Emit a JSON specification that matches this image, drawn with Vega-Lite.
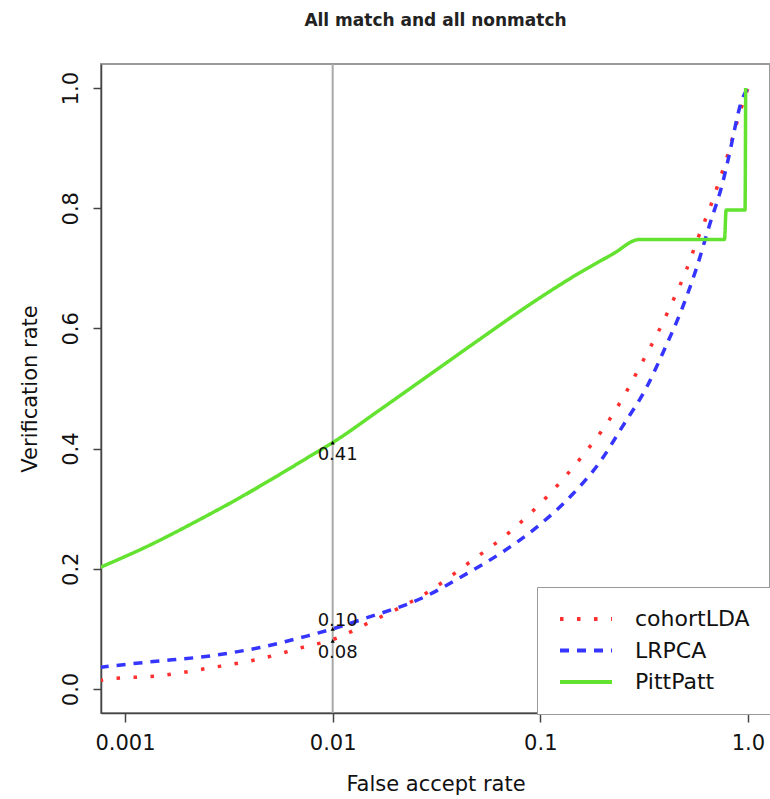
{
  "$schema": "https://vega.github.io/schema/vega-lite/v6.json",
  "width": 669,
  "height": 649,
  "autosize": {"type": "none"},
  "padding": {"left": 101, "top": 64, "right": 0, "bottom": 86},
  "background": "white",
  "title": {"text": "All match and all nonmatch", "fontSize": 17, "fontWeight": "bold", "font": "DejaVu Sans", "color": "#222", "offset": 33, "anchor": "middle"},
  "config": {
    "view": {"stroke": "#9a9a9a", "strokeWidth": 2},
    "axis": {"labelFont": "DejaVu Sans", "titleFont": "DejaVu Sans", "labelFontSize": 21, "titleFontSize": 21, "titleFontWeight": "normal", "labelColor": "#111", "titleColor": "#111", "domainColor": "#444", "domainWidth": 1.5, "tickColor": "#444", "tickWidth": 1.5, "grid": false},
    "legend": {"strokeColor": "#999", "fillColor": "white", "padding": 21, "symbolType": "stroke", "symbolSize": 2700, "symbolStrokeWidth": 4, "labelFont": "DejaVu Sans", "labelFontSize": 22, "labelColor": "#111", "labelOffset": 21, "rowPadding": 9.5, "clipHeight": 22}
  },
  "datasets": {
    "curves": [
      {"fa": 0.000755, "vr": 0.014, "method": "cohortLDA"},
      {"fa": 0.000844, "vr": 0.0166, "method": "cohortLDA"},
      {"fa": 0.00147, "vr": 0.022, "method": "cohortLDA"},
      {"fa": 0.00256, "vr": 0.035, "method": "cohortLDA"},
      {"fa": 0.00446, "vr": 0.05, "method": "cohortLDA"},
      {"fa": 0.0075, "vr": 0.071, "method": "cohortLDA"},
      {"fa": 0.01, "vr": 0.082, "method": "cohortLDA"},
      {"fa": 0.01507, "vr": 0.111, "method": "cohortLDA"},
      {"fa": 0.0293, "vr": 0.163, "method": "cohortLDA"},
      {"fa": 0.0457, "vr": 0.211, "method": "cohortLDA"},
      {"fa": 0.0711, "vr": 0.261, "method": "cohortLDA"},
      {"fa": 0.107, "vr": 0.319, "method": "cohortLDA"},
      {"fa": 0.1546, "vr": 0.382, "method": "cohortLDA"},
      {"fa": 0.216, "vr": 0.449, "method": "cohortLDA"},
      {"fa": 0.263, "vr": 0.498, "method": "cohortLDA"},
      {"fa": 0.311, "vr": 0.545, "method": "cohortLDA"},
      {"fa": 0.371, "vr": 0.595, "method": "cohortLDA"},
      {"fa": 0.434, "vr": 0.645, "method": "cohortLDA"},
      {"fa": 0.501, "vr": 0.694, "method": "cohortLDA"},
      {"fa": 0.571, "vr": 0.748, "method": "cohortLDA"},
      {"fa": 0.653, "vr": 0.799, "method": "cohortLDA"},
      {"fa": 0.738, "vr": 0.852, "method": "cohortLDA"},
      {"fa": 0.78, "vr": 0.877, "method": "cohortLDA"},
      {"fa": 0.912, "vr": 0.958, "method": "cohortLDA"},
      {"fa": 1.0, "vr": 1.0, "method": "cohortLDA"},
      {"fa": 0.000755, "vr": 0.036, "method": "LRPCA"},
      {"fa": 0.00131, "vr": 0.045, "method": "LRPCA"},
      {"fa": 0.00256, "vr": 0.055, "method": "LRPCA"},
      {"fa": 0.00446, "vr": 0.069, "method": "LRPCA"},
      {"fa": 0.0075, "vr": 0.088, "method": "LRPCA"},
      {"fa": 0.01, "vr": 0.1, "method": "LRPCA"},
      {"fa": 0.0139, "vr": 0.116, "method": "LRPCA"},
      {"fa": 0.0284, "vr": 0.155, "method": "LRPCA"},
      {"fa": 0.0423, "vr": 0.188, "method": "LRPCA"},
      {"fa": 0.0658, "vr": 0.228, "method": "LRPCA"},
      {"fa": 0.0959, "vr": 0.269, "method": "LRPCA"},
      {"fa": 0.143, "vr": 0.324, "method": "LRPCA"},
      {"fa": 0.193, "vr": 0.377, "method": "LRPCA"},
      {"fa": 0.249, "vr": 0.437, "method": "LRPCA"},
      {"fa": 0.325, "vr": 0.502, "method": "LRPCA"},
      {"fa": 0.396, "vr": 0.565, "method": "LRPCA"},
      {"fa": 0.479, "vr": 0.631, "method": "LRPCA"},
      {"fa": 0.566, "vr": 0.701, "method": "LRPCA"},
      {"fa": 0.653, "vr": 0.772, "method": "LRPCA"},
      {"fa": 0.755, "vr": 0.842, "method": "LRPCA"},
      {"fa": 0.798, "vr": 0.877, "method": "LRPCA"},
      {"fa": 0.942, "vr": 0.983, "method": "LRPCA"},
      {"fa": 1.0, "vr": 1.0, "method": "LRPCA"},
      {"fa": 0.000755, "vr": 0.202, "method": "PittPatt"},
      {"fa": 0.00131, "vr": 0.239, "method": "PittPatt"},
      {"fa": 0.00229, "vr": 0.282, "method": "PittPatt"},
      {"fa": 0.00356, "vr": 0.318, "method": "PittPatt"},
      {"fa": 0.00556, "vr": 0.357, "method": "PittPatt"},
      {"fa": 0.00801, "vr": 0.39, "method": "PittPatt"},
      {"fa": 0.01, "vr": 0.41, "method": "PittPatt"},
      {"fa": 0.0168, "vr": 0.464, "method": "PittPatt"},
      {"fa": 0.0293, "vr": 0.523, "method": "PittPatt"},
      {"fa": 0.0511, "vr": 0.582, "method": "PittPatt"},
      {"fa": 0.0887, "vr": 0.6395, "method": "PittPatt"},
      {"fa": 0.1546, "vr": 0.6925, "method": "PittPatt"},
      {"fa": 0.2228, "vr": 0.7235, "method": "PittPatt"},
      {"fa": 0.3006, "vr": 0.748, "method": "PittPatt"},
      {"fa": 0.771, "vr": 0.748, "method": "PittPatt"},
      {"fa": 0.785, "vr": 0.797, "method": "PittPatt"},
      {"fa": 0.968, "vr": 0.797, "method": "PittPatt"},
      {"fa": 0.975, "vr": 1.0, "method": "PittPatt"}
    ],
    "notes": [
      {"fa": 0.01, "vr": 0.41, "label": "0.41", "pos": "below"},
      {"fa": 0.01, "vr": 0.1, "label": "0.10", "pos": "above"},
      {"fa": 0.01, "vr": 0.08, "label": "0.08", "pos": "below"}
    ]
  },
  "encoding": {
    "x": {"field": "fa", "type": "quantitative", "title": "False accept rate",
      "scale": {"type": "log", "domain": [0.000766, 1.277], "nice": false, "zero": false},
      "axis": {"values": [0.001, 0.01, 0.1, 1], "labelExpr": "datum.value >= 1 ? '1.0' : datum.value >= 0.1 ? '0.1' : datum.value >= 0.01 ? '0.01' : '0.001'", "tickSize": 9, "labelPadding": 10, "titlePadding": 20, "labelFlush": false}},
    "y": {"field": "vr", "type": "quantitative", "title": "Verification rate",
      "scale": {"domain": [-0.04, 1.04], "nice": false, "zero": false},
      "axis": {"values": [0, 0.2, 0.4, 0.6, 0.8, 1], "format": ".1f", "labelAngle": -90, "tickSize": 8, "labelPadding": 12, "titlePadding": 20, "labelFlush": false}}
  },
  "layer": [
    {
      "data": {"values": [{"fa": 0.01}]},
      "mark": {"type": "rule", "color": "#a8a8a8", "strokeWidth": 2},
      "encoding": {"x": {"field": "fa", "type": "quantitative"}, "y": null}
    },
    {
      "data": {"name": "curves"},
      "mark": {"type": "line", "clip": true, "strokeWidth": 3.5, "strokeCap": "butt", "interpolate": "monotone"},
      "encoding": {
        "color": {"field": "method", "type": "nominal", "scale": {"domain": ["cohortLDA", "LRPCA", "PittPatt"], "range": ["#ff2f2f", "#3535ff", "#63e22f"]}, "legend": {"title": null, "orient": "none", "legendX": 436, "legendY": 523}},
        "strokeDash": {"field": "method", "type": "nominal", "scale": {"domain": ["cohortLDA", "LRPCA", "PittPatt"], "range": [[3.5, 13.5], [9, 8], [1, 0]]}, "legend": {"title": null, "orient": "none", "legendX": 436, "legendY": 523}},
        "order": {"field": "fa", "type": "quantitative"}
      }
    },
    {
      "data": {"name": "notes"},
      "mark": {"type": "point", "shape": "triangle-up", "filled": true, "color": "black", "size": 18, "opacity": 1},
      "encoding": {}
    },
    {
      "data": {"name": "notes"},
      "transform": [{"filter": "datum.pos == 'below'"}],
      "mark": {"type": "text", "font": "DejaVu Sans", "fontSize": 18, "color": "#111", "align": "center", "baseline": "middle", "dx": 5, "dy": 12},
      "encoding": {"text": {"field": "label"}}
    },
    {
      "data": {"name": "notes"},
      "transform": [{"filter": "datum.pos == 'above'"}],
      "mark": {"type": "text", "font": "DejaVu Sans", "fontSize": 18, "color": "#111", "align": "center", "baseline": "middle", "dx": 5, "dy": -8},
      "encoding": {"text": {"field": "label"}}
    }
  ]
}
